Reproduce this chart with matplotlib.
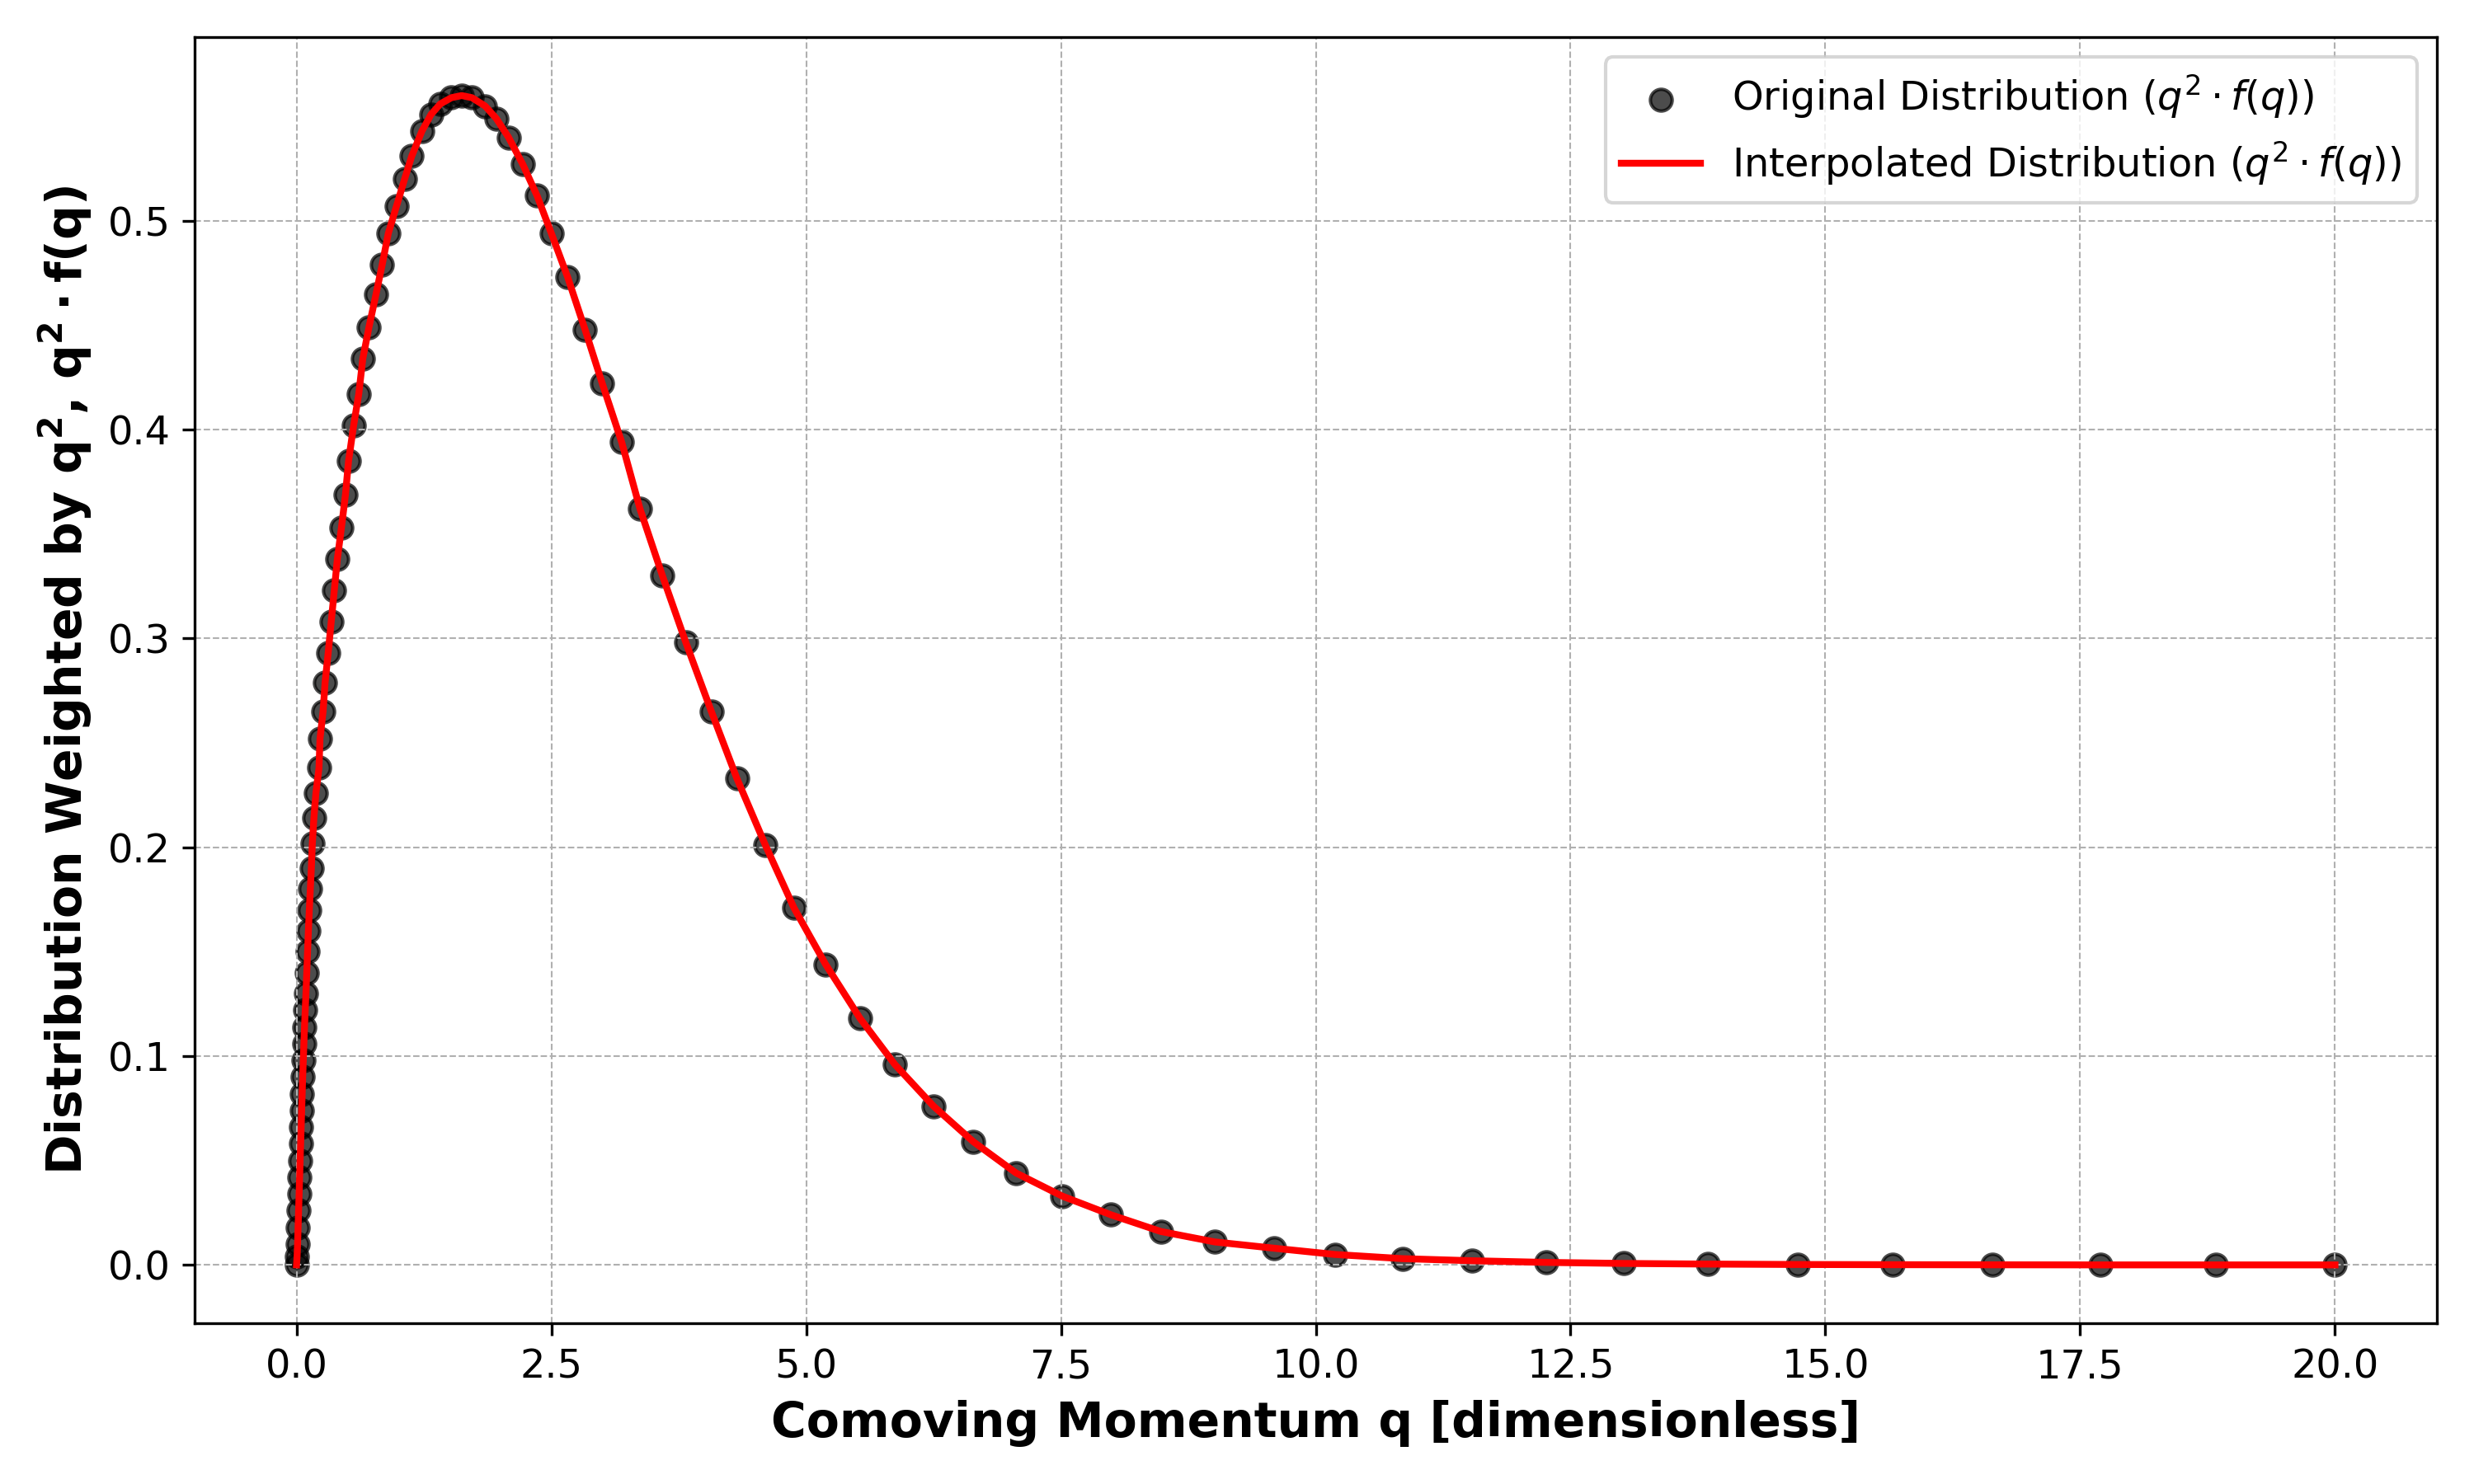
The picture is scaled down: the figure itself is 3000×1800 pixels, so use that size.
import numpy as np
import matplotlib.pyplot as plt

# values
q_points = [0.0, 0.005, 0.01, 0.015, 0.02, 0.025, 0.03, 0.035, 0.04, 0.045, 0.05, 0.055,
            0.06, 0.066, 0.072, 0.078, 0.085, 0.092, 0.1, 0.108, 0.116, 0.125, 0.135, 0.145,
            0.155, 0.17, 0.19, 0.22, 0.23, 0.26, 0.28, 0.31, 0.34, 0.37, 0.40, 0.44, 0.48,
            0.51, 0.56, 0.61, 0.65, 0.71, 0.78, 0.84, 0.90, 0.98, 1.06, 1.13, 1.23, 1.32,
            1.41, 1.52, 1.62, 1.72, 1.85, 1.96, 2.08, 2.22, 2.36, 2.50, 2.66, 2.83, 3.00,
            3.19, 3.37, 3.59, 3.82, 4.07, 4.32, 4.60, 4.88, 5.19, 5.53, 5.87, 6.25, 6.64,
            7.06, 7.51, 7.99, 8.48, 9.01, 9.59, 10.19, 10.85, 11.53, 12.26, 13.02, 13.85,
            14.73, 15.66, 16.64, 17.70, 18.83, 20.0]
w_points = [0.0, 0.004, 0.01, 0.018, 0.026, 0.034, 0.042, 0.05, 0.058, 0.066, 0.074, 0.082,
            0.09, 0.098, 0.106, 0.114, 0.122, 0.13, 0.14, 0.15, 0.16, 0.17, 0.18, 0.19,
            0.202, 0.214, 0.226, 0.238, 0.252, 0.265, 0.279, 0.293, 0.308, 0.323, 0.338,
            0.353, 0.369, 0.385, 0.402, 0.417, 0.434, 0.449, 0.465, 0.479, 0.494, 0.507,
            0.52, 0.531, 0.543, 0.551, 0.556, 0.559, 0.560, 0.559, 0.555, 0.549, 0.540,
            0.527, 0.512, 0.494, 0.473, 0.448, 0.422, 0.394, 0.362, 0.330, 0.298, 0.265,
            0.233, 0.201, 0.171, 0.144, 0.118, 0.096, 0.076, 0.059, 0.044, 0.033, 0.024,
            0.016, 0.011, 0.008, 0.005, 0.003, 0.002, 0.0012, 0.0007, 0.0004, 0.0002,
            0.0001, 0.00005, 0.0, 0.0, 0.0]
q_points = q_points[:len(w_points)]

plt.figure(figsize=(10, 6), dpi=300)
plt.scatter(q_points, w_points, s=40, color='black', alpha=0.7,
            label=r'Original Distribution ($q^2 \cdot f(q)$)')
plt.plot(q_points, w_points, '-', color='red', lw=2,
         label=r'Interpolated Distribution ($q^2 \cdot f(q)$)')
plt.xlabel('Comoving Momentum q [dimensionless]', fontsize=14, fontweight='bold')
plt.ylabel(r'Distribution Weighted by $\mathbf{q^2}$, $\mathbf{q^2 \cdot f(q)}$',
           fontsize=14, fontweight='bold')
plt.xticks(np.arange(0, 20.1, 2.5), fontsize=11.5)
plt.yticks(fontsize=11.5)
plt.grid(True, linestyle='--', linewidth=0.5)
plt.legend(loc=1, fontsize=11.5)
plt.tight_layout()
plt.savefig('out.png')
